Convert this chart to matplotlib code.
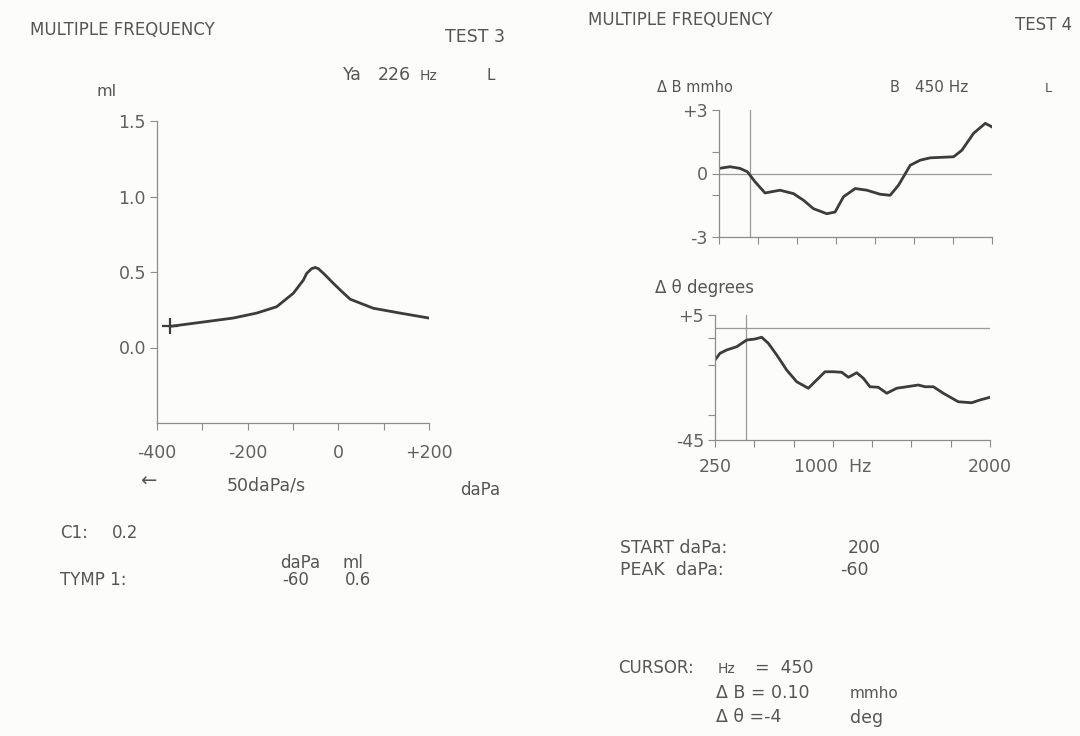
import matplotlib
matplotlib.use('Agg')
import matplotlib.pyplot as plt

W, H = 1080, 736

# tympanogram, 226 Hz
tymp_dapa = [-371, -305, -232, -180, -136, -99, -77, -70, -59, -51, -44, -29, -11, 8, 26, 77, 136, 200]
tymp_ml = [0.14, 0.166, 0.195, 0.228, 0.27, 0.36, 0.447, 0.49, 0.522, 0.53, 0.522, 0.48, 0.425, 0.37, 0.32, 0.26, 0.228, 0.195]

# delta B (mmho) vs frequency
db_hz = [250, 321, 385, 432, 481, 545, 641, 727, 791, 855, 941, 994, 1048, 1123,
         1198, 1283, 1347, 1401, 1476, 1540, 1604, 1754, 1807, 1882, 1957, 2000]
db_val = [0.24, 0.32, 0.24, 0.08, -0.39, -0.92, -0.79, -0.95, -1.26, -1.66, -1.9, -1.82, -1.1, -0.71,
          -0.79, -0.98, -1.03, -0.55, 0.39, 0.63, 0.74, 0.79, 1.1, 1.9, 2.37, 2.2]

# delta theta (degrees) vs frequency
dt_hz = [250, 282, 324, 388, 452, 505, 547, 589, 643, 706, 770, 844, 897, 950, 1003, 1056,
         1099, 1152, 1194, 1236, 1289, 1343, 1406, 1470, 1544, 1587, 1640, 1703, 1798, 1883, 1936, 2000]
dt_val = [-13.0, -10.3, -9.0, -7.7, -5.0, -4.6, -3.9, -6.3, -11.0, -17.0, -21.7, -24.3, -21.0, -17.7, -17.7, -17.9,
          -19.9, -18.1, -20.3, -23.7, -23.9, -26.3, -24.3, -23.7, -23.0, -23.7, -23.7, -26.3, -29.7, -30.1, -29.0, -27.9]

cursor_hz = 450
start_pt = (-371, 0.14)

TXT = '#555555'
AX = '#8c8c8c'
LINE = '#3c3c3c'

fig = plt.figure(figsize=(W / 100, H / 100), dpi=100)
fig.patch.set_facecolor('#fcfcfb')


def put(x, y, s, size=12, ha='left', **kw):
    fig.text(x / W, 1 - y / H, s, size=size, ha=ha, va='center', color=TXT,
             family='DejaVu Sans', **kw)


def axes_px(x0, x1, ytop, ybot):
    return fig.add_axes([x0 / W, 1 - ybot / H, (x1 - x0) / W, (ybot - ytop) / H])


def style(ax):
    ax.set_facecolor('none')
    for s in ['top', 'right']:
        ax.spines[s].set_visible(False)
    for s in ['left', 'bottom']:
        ax.spines[s].set_color(AX)
        ax.spines[s].set_linewidth(0.9)
    ax.tick_params(direction='out', length=5, width=0.8, color=AX,
                   labelcolor='#606060', labelsize=12.5, pad=3)


# ---- left: tympanogram
ax1 = axes_px(157, 429, 121, 423)
style(ax1)
ax1.plot(tymp_dapa, tymp_ml, color=LINE, lw=2.0, solid_joinstyle='round')
ax1.plot(*start_pt, marker='+', ms=12, mew=1.6, color=LINE)
ax1.set_xlim(-400, 200)
ax1.set_ylim(-0.5, 1.5)
ax1.set_xticks([-400, -300, -200, -100, 0, 100, 200])
ax1.set_xticklabels(['-400', '', '-200', '', '0', '', '+200'])
ax1.set_yticks([0.0, 0.5, 1.0, 1.5])
ax1.set_yticklabels(['0.0', '0.5', '1.0', '1.5'])
ax1.tick_params(axis='x', pad=10)

# ---- right top: delta B
ax2 = axes_px(719, 992, 110, 237)
style(ax2)
ax2.axhline(0, color='#9a9a9a', lw=0.9)
ax2.axvline(cursor_hz, color='#9a9a9a', lw=0.9)
ax2.plot(db_hz, db_val, color=LINE, lw=2.0, solid_joinstyle='round')
ax2.set_xlim(250, 2000)
ax2.set_ylim(-3, 3)
ax2.set_xticks(range(250, 2001, 250))
ax2.set_xticklabels([])
ax2.set_yticks([-3, -1, 0, 1, 3])
ax2.set_yticklabels(['-3', '', '0', '', '+3'])

# ---- right bottom: delta theta
ax3 = axes_px(715, 990, 315, 440)
style(ax3)
ax3.axhline(0, color='#9a9a9a', lw=0.9)
ax3.axvline(cursor_hz, color='#9a9a9a', lw=0.9)
ax3.plot(dt_hz, dt_val, color=LINE, lw=2.0, solid_joinstyle='round')
ax3.set_xlim(250, 2000)
ax3.set_ylim(-45, 5)
ax3.set_xticks(range(250, 2001, 250))
ax3.set_xticklabels(['250', '', '', '1000  Hz', '', '', '', '2000'])
ax3.set_yticks([-45, -35, -15, -4, 5])
ax3.set_yticklabels(['-45', '', '', '', '+5'])
ax3.tick_params(axis='x', pad=8)

# ---- left page text
put(30, 30, 'MULTIPLE FREQUENCY', size=12)
put(505, 37, 'TEST 3', ha='right', size=12.5)
put(343, 75, 'Ya', size=12.5)
put(378, 75, '226', size=12.5)
put(420, 76, 'Hz', size=10)
put(495, 75, 'L', ha='right', size=11)
put(97, 92, 'ml', size=11.5)
put(140, 481, '\u2190', size=14)
put(227, 486, '50daPa/s', size=12.5)
put(460, 490, 'daPa', size=12)
put(60, 533, 'C1:', size=12)
put(112, 533, '0.2', size=12)
put(280, 563, 'daPa', size=12)
put(343, 563, 'ml', size=12)
put(60, 580, 'TYMP 1:', size=12)
put(282, 580, '-60', size=12)
put(345, 580, '0.6', size=12)

# ---- right page text
put(588, 20, 'MULTIPLE FREQUENCY', size=12)
put(1072, 25, 'TEST 4', ha='right', size=12)
put(657, 88, '\u0394 B mmho', size=10.5)
put(890, 88, 'B', size=10.5)
put(915, 88, '450 Hz', size=11)
put(1052, 89, 'L', ha='right', size=9.5)
put(655, 288, '\u0394 \u03b8 degrees', size=12)
put(620, 548, 'START daPa:', size=12.5)
put(848, 548, '200', size=12.5)
put(620, 570, 'PEAK  daPa:', size=12.5)
put(840, 570, '-60', size=12.5)
put(618, 668, 'CURSOR:', size=12)
put(718, 669, 'Hz', size=10)
put(755, 668, '=  450', size=12.5)
put(716, 693, '\u0394 B = 0.10', size=12.5)
put(850, 693, 'mmho', size=11)
put(716, 717, '\u0394 \u03b8 =-4', size=12.5)
put(850, 718, 'deg', size=12.5)

fig.savefig('out.png', dpi=100, facecolor=fig.get_facecolor())
